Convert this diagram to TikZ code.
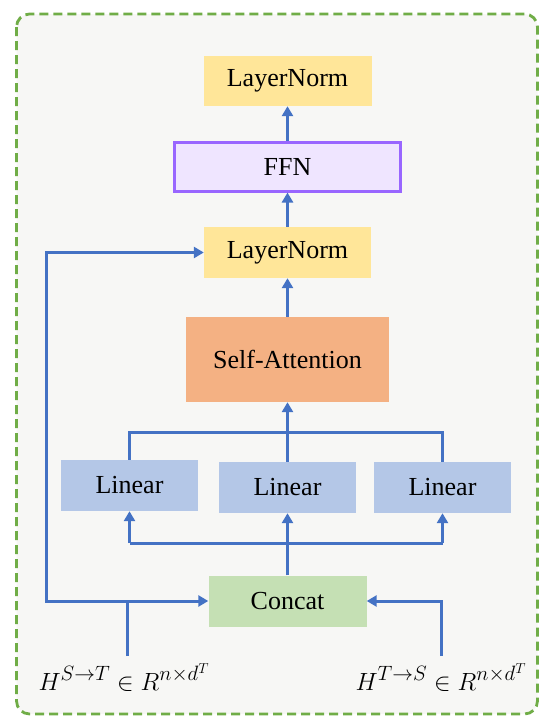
\documentclass[tikz,border=0pt]{standalone}
\usepackage{fontspec}
\setmainfont{Liberation Serif}
\DeclareMathSizes{26}{26}{20}{15}
\usetikzlibrary{arrows.meta,calc}
\definecolor{bgc}{HTML}{F7F7F5}
\definecolor{frame}{HTML}{70AD47}
\definecolor{lnc}{HTML}{4472C4}
\definecolor{lnorm}{HTML}{FFE699}
\definecolor{ffnfill}{HTML}{EFE5FF}
\definecolor{ffnline}{HTML}{9966FF}
\definecolor{attn}{HTML}{F4B183}
\definecolor{linc}{HTML}{B4C7E7}
\definecolor{concatc}{HTML}{C5E0B4}
\tikzset{
  blk/.style={inner sep=0pt, font=\fontsize{26}{30}\selectfont},
  conn/.style={draw=lnc, line width=3pt},
  arr/.style={conn, -{Triangle[length=10pt,width=11pt]}},
}
\begin{document}
\begin{tikzpicture}[x=1pt,y=-1pt]
\useasboundingbox (0,0) rectangle (540,716);
\draw[frame, line width=2.8pt, dash pattern=on 9pt off 5pt, fill=bgc, rounded corners=13pt] (16.5,14) rectangle (537.5,714);

\node[blk, fill=lnorm, minimum width=168pt, minimum height=50pt] (ln2) at (287.5,81) {LayerNorm};
\node[blk, fill=ffnfill, draw=ffnline, line width=3pt, minimum width=226pt, minimum height=49pt] (ffn) at (287.5,166.5) {FFN};
\node[blk, fill=lnorm, minimum width=167pt, minimum height=51pt] (ln1) at (287.5,252.5) {LayerNorm};
\node[blk, fill=attn, minimum width=203pt, minimum height=85pt] (sa) at (287.5,359.5) {Self-Attention};
\node[blk, fill=linc, minimum width=137pt, minimum height=51pt] (linl) at (129.5,485.5) {Linear};
\node[blk, fill=linc, minimum width=137pt, minimum height=51pt] (linm) at (287.5,487.5) {Linear};
\node[blk, fill=linc, minimum width=137pt, minimum height=51pt] (linr) at (442.5,487.5) {Linear};
\node[blk, fill=concatc, minimum width=158pt, minimum height=51pt] (cc) at (287.5,601) {Concat};

\node[blk, anchor=base] (hl) at (124,690) {$H^{S\rightarrow T}\in R^{n\times d^{T}}$};
\node[blk, anchor=base] (hr) at (441,690) {$H^{T\rightarrow S}\in R^{n\times d^{T}}$};

\coordinate (inl) at (127,656);
\coordinate (inr) at (441,656);
\coordinate (jl) at (127,601);
\coordinate (fb) at (46.5,601);
\coordinate (fbt) at (46.5,252.5);
\coordinate (bus) at (287.5,543);
\coordinate (top) at (287.5,432);

% inputs
\draw[conn] (inl) -- (jl);
\draw[arr] (jl) -- (cc.west);
\draw[arr] (inr) |- (cc.east);
% residual
\draw[arr] (jl) -- (fb) -- (fbt) -- (ln1.west);
% concat to linears
\draw[conn] (cc.north) -- (bus);
\draw[conn] (linl.south |- bus) -- (linr.south |- bus);
\draw[arr] (linl.south |- bus) -- (linl.south);
\draw[arr] (bus) -- (linm.south);
\draw[arr] (linr.south |- bus) -- (linr.south);
% linears to attention
\draw[conn] (linl.north) -- (linl.north |- top) -- (linr.north |- top) -- (linr.north);
\draw[arr] (linm.north) -- (sa.south);
% upward chain
\draw[arr] (sa.north) -- (ln1.south);
\draw[arr] (ln1.north) -- (ffn.south);
\draw[arr] (ffn.north) -- (ln2.south);
\end{tikzpicture}
\end{document}
